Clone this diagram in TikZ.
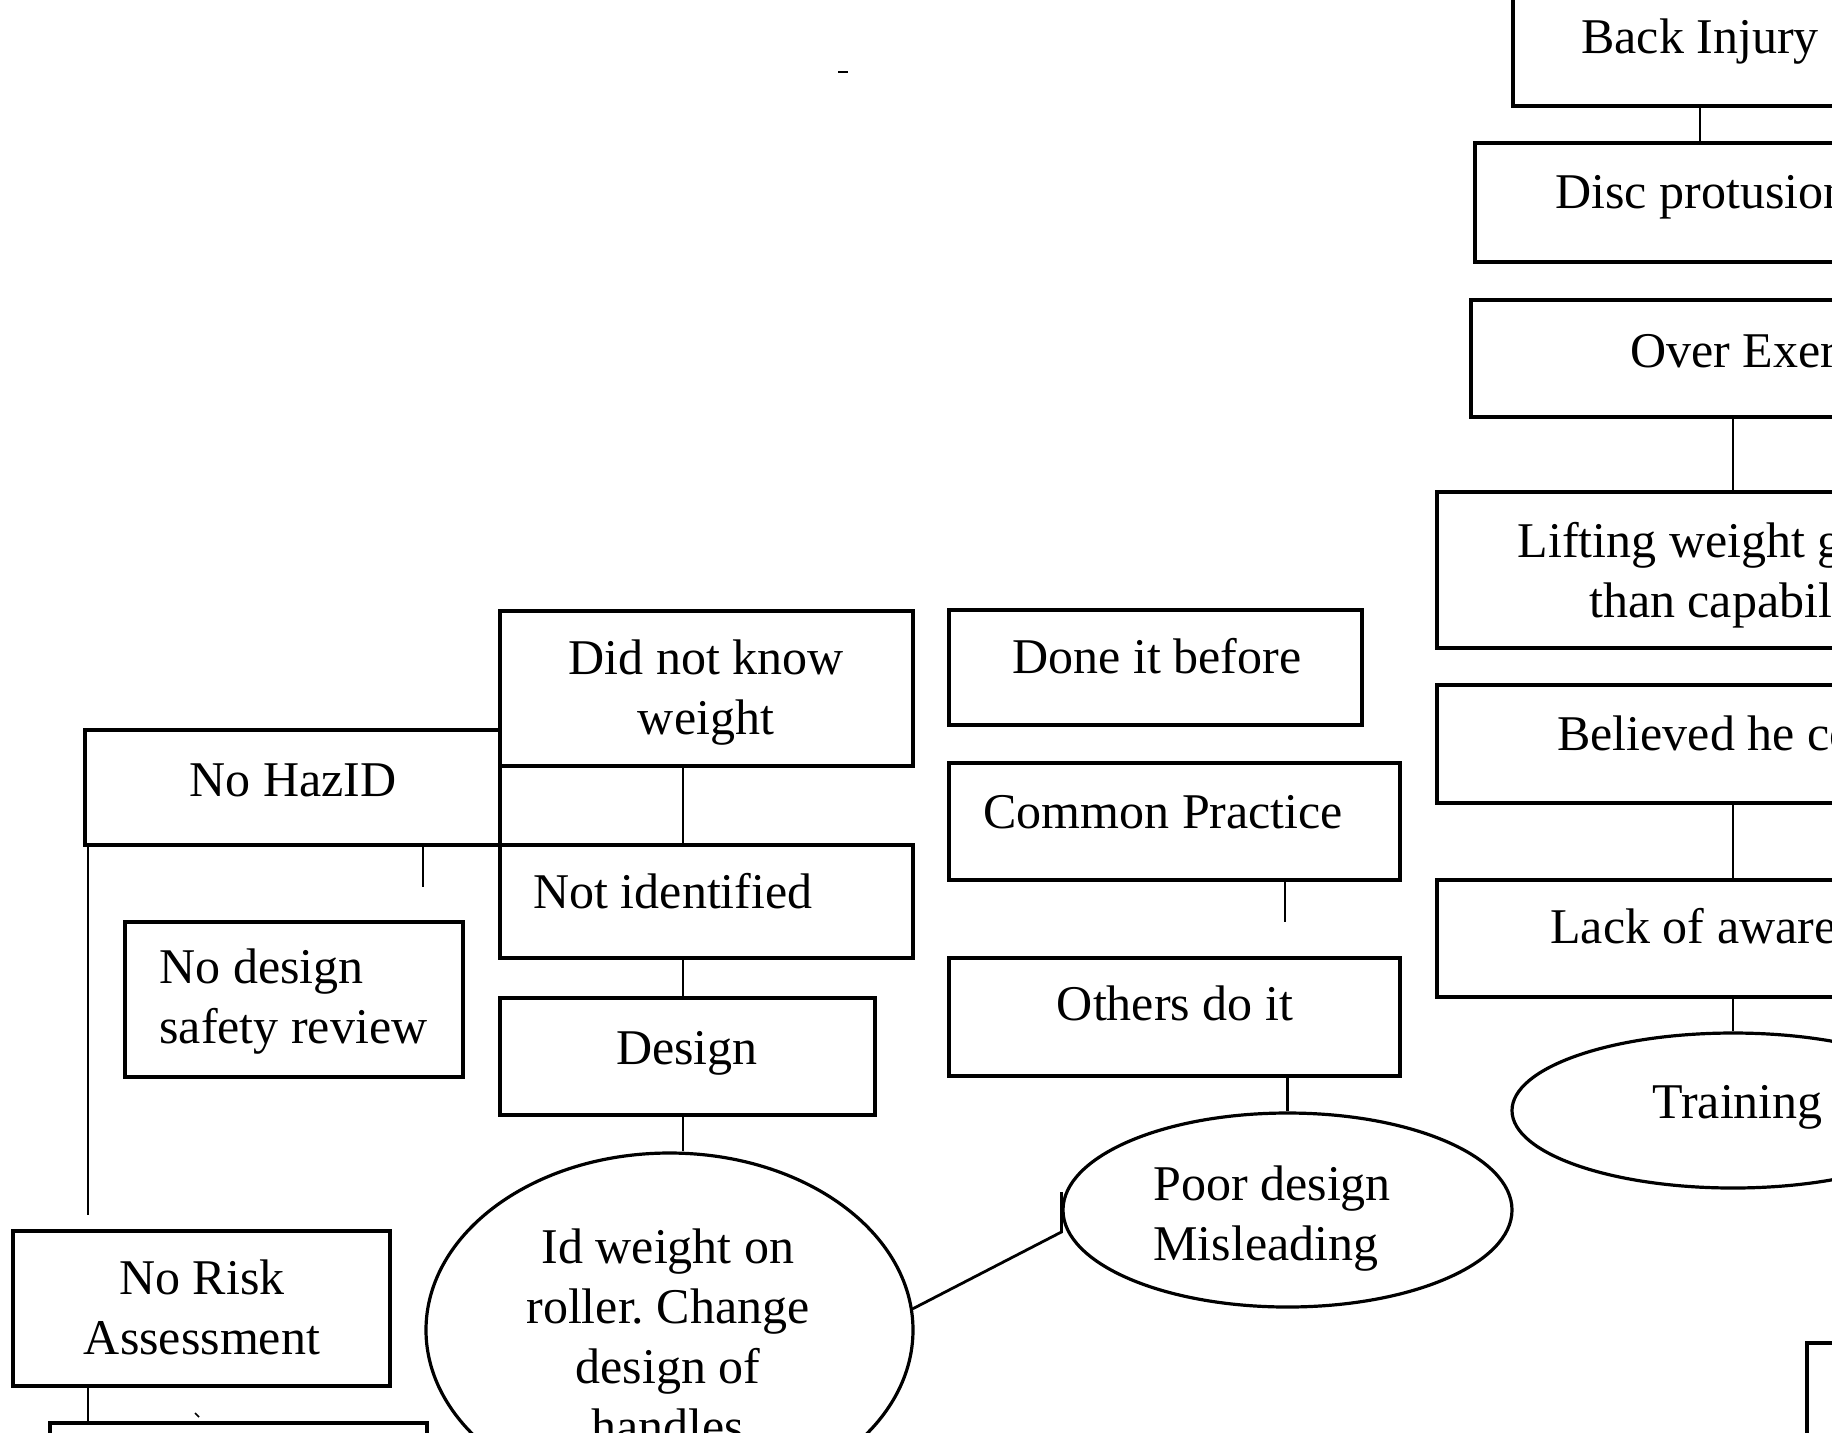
\documentclass[tikz,border=0pt]{standalone}
\usepackage{fontspec}
\setmainfont{Liberation Serif}
\usetikzlibrary{fit,shapes.geometric}
\frenchspacing
\begin{document}
\begin{tikzpicture}[x=0.5pt,y=-0.5pt,
  box/.style={draw, line width=1.8pt, inner sep=0pt, rectangle},
  ell/.style={draw, line width=1.6pt, ellipse, inner sep=0pt},
  txt/.style={inner sep=0pt, font=\fontsize{25}{30}\selectfont},
  conn/.style={line width=1.4pt}]
\useasboundingbox (0,0) rectangle (1832,1432);
\clip (0,0) rectangle (1832,1432);
\fill[white] (0,0) rectangle (1832,1432);

% ---------- right column ----------
\node[box, fit={(1513,-30) (2100,106)}] (bi) {};
\node[txt, anchor=base] (bit) at (1700,53) {Back Injury};
\node[box, fit={(1475,143) (1925,262)}] (dp) {};
\node[txt, anchor=base west] (dpt) at (1555,208) {Disc protusion};
\node[box, fit={(1471,300) (2000,417)}] (oe) {};
\node[txt, anchor=base west] (oet) at (1630,367) {Over Exertion};
\node[box, fit={(1437,492) (2040,648)}] (lw) {};
\node[txt, anchor=base] (lwt) at (1737,557) {\begin{tabular}[t]{@{}c@{}}Lifting weight greater\\than capability\end{tabular}};
\node[box, fit={(1437,685) (2040,803)}] (bh) {};
\node[txt, anchor=base west] (bht) at (1557,750) {Believed he could};
\node[box, fit={(1437,880) (2040,997)}] (la) {};
\node[txt, anchor=base west] (lat) at (1550,943) {Lack of awareness};
\node[ell, minimum width=221pt, minimum height=77.5pt] (tr) at (1733,1110.5) {};
\node[txt, anchor=base west] (trt) at (1652,1118) {Training};
\node[box, fit={(1807,1343) (2000,1500)}] (br) {};

\draw[conn] (bi.south -| bit) -- (dp.north -| bit);
\draw[conn] (oe.south -| tr) -- (lw.north -| tr);
\draw[conn] (bh.south -| tr) -- (la.north -| tr);
\draw[conn] (la.south -| tr) -- (tr.north);

% ---------- middle column ----------
\node[box, fit={(949,610) (1362,725)}] (dib) {};
\node[txt, anchor=base] (dibt) at (1157,673) {Done it before};
\node[box, fit={(949,763) (1400,880)}] (cp) {};
\node[txt, anchor=base west] (cpt) at (983,828) {Common Practice};
\node[box, fit={(949,958) (1400,1076)}] (od) {};
\node[txt, anchor=base] (odt) at (1175,1020) {Others do it};
\node[ell, minimum width=224.5pt, minimum height=97pt] (pd) at (1287.5,1210) {};
\node[txt, anchor=base west] (pdt) at (1153,1200) {\begin{tabular}[t]{@{}l@{}}Poor design\\Misleading\end{tabular}};

\coordinate (cptick) at (1285,922);
\draw[conn] (cp.south -| cptick) -- (cptick);
\draw[conn] (od.south -| pd.north) -- (pd.north);

% ---------- left-middle column ----------
\coordinate (spine) at (683,0);
\node[box, fit={(500,611) (913,766)}] (dnk) {};
\node[txt, anchor=base] (dnkt) at (706,674) {\begin{tabular}[t]{@{}c@{}}Did not know\\weight\end{tabular}};
\node[box, fit={(500,845) (913,958)}] (ni) {};
\node[txt, anchor=base west] (nit) at (533,908) {Not identified};
\node[box, fit={(500,998) (875,1115)}] (de) {};
\node[txt, anchor=base] (det) at (687,1064) {Design};
\node[ell, minimum width=243.5pt, minimum height=177pt] (id) at (669.5,1330) {};
\node[txt, anchor=base] (idt) at (668,1263) {\begin{tabular}[t]{@{}c@{}}Id weight on\\roller. Change\\design of\\handles\end{tabular}};

\draw[conn] (dnk.south -| spine) -- (ni.north -| spine);
\draw[conn] (ni.south -| spine) -- (de.north -| spine);
\draw[conn] (de.south -| spine) -- (id.north -| spine);
\draw[conn] (id.5) -- ([yshift=-11pt]pd.west) -- ([yshift=9pt]pd.west);

% ---------- left column ----------
\node[box, fit={(85,730) (500,845)}] (nh) {};
\node[txt, anchor=base] (nht) at (293,796) {No HazID};
\node[box, fit={(125,922) (463,1077)}] (nds) {};
\node[txt, anchor=base west] (ndst) at (159,983) {\begin{tabular}[t]{@{}l@{}}No design\\safety review\end{tabular}};
\node[box, fit={(13,1231) (390,1386)}] (nra) {};
\node[txt, anchor=base] (nrat) at (202,1294) {\begin{tabular}[t]{@{}c@{}}No Risk\\Assessment\end{tabular}};
\node[box, fit={(50,1423) (427,1520)}] (bb) {};

\coordinate (nhdown) at (88,1215);
\coordinate (nhtick) at (423,887);
\draw[conn] (nh.south -| nhdown) -- (nhdown);
\draw[conn] (nh.south -| nhtick) -- (nhtick);
\draw[conn] (nra.south -| nhdown) -- (bb.north -| nhdown);

% stray marks of the scan
\coordinate (m1a) at (838,72); \coordinate (m1b) at (848,72);
\draw[line width=1.2pt] (m1a) -- (m1b);
\coordinate (m2a) at (195,1413); \coordinate (m2b) at (199,1417);
\draw[line width=0.8pt] (m2a) -- (m2b);
\end{tikzpicture}
\end{document}
